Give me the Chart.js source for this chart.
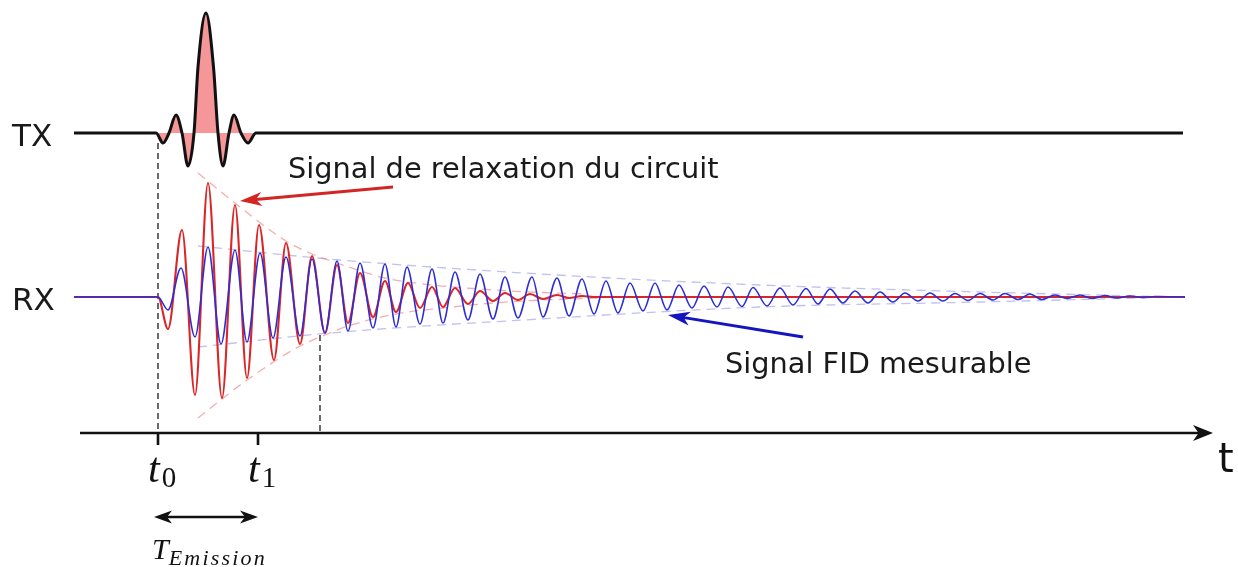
<!DOCTYPE html>
<html>
<head>
<meta charset="utf-8">
<script src="https://cdn.jsdelivr.net/npm/chart.js@4/dist/chart.umd.min.js"></script>
<style>
  html, body { margin: 0; padding: 0; background: #fff; }
  canvas { display: block; }
</style>
</head>
<body>
<canvas id="c" width="1238" height="567"></canvas>
<script>
// Time is expressed in units of the emission window (t0 = 0, t1 = 1).
// Amplitudes are relative to each channel's own baseline.

// TX: emitted sinc-shaped RF pulse (extrema, half-height points and zero crossings)
const txTime = [-0.84, -0.02, 0.05, 0.11, 0.18, 0.24, 0.30, 0.36, 0.40, 0.48, 0.555, 0.60, 0.65, 0.71, 0.76, 0.83, 0.90, 0.98, 10.25];
const txAmp  = [0, 0, -0.10, 0, 0.18, 0, -0.33, 0, 0.66, 1.20, 0.66, 0, -0.33, 0, 0.18, 0, -0.10, 0, 0];

// RX: ringing of the coil circuit after the pulse (successive extrema)
const relaxTime = [-0.84, 0.00, 0.10, 0.24, 0.37, 0.50, 0.64, 0.77, 0.89, 1.01, 1.16, 1.28, 1.42, 1.54, 1.67, 1.79, 1.90, 2.02,
  2.15, 2.27, 2.38, 2.50, 2.62, 2.74, 2.85, 2.97, 3.10, 3.22, 3.35, 3.47, 3.60, 3.72, 3.85, 3.99, 4.11, 4.24, 4.36, 10.27];
const relaxAmp  = [0, 0, -0.32, 0.67, -0.98, 1.14, -1.01, 0.92, -0.81, 0.72, -0.63, 0.54, -0.47, 0.41, -0.36, 0.32, -0.26, 0.24,
  -0.20, 0.16, -0.15, 0.14, -0.11, 0.10, -0.10, 0.09, -0.07, 0.06, -0.04, 0.04, -0.03, 0.03, -0.02, 0.02, -0.01, 0.01, 0, 0];

// RX: free induction decay (successive extrema)
const fidTime = [-0.84, 0, 0.10, 0.23, 0.37, 0.50, 0.63, 0.77, 0.89, 1.02, 1.15, 1.28, 1.42, 1.54, 1.67, 1.79, 1.90, 2.02,
  2.15, 2.27, 2.38, 2.49, 2.62, 2.74, 2.85, 2.97, 3.10, 3.22, 3.35, 3.47, 3.60, 3.74, 3.85, 3.99, 4.11, 4.24, 4.36, 4.48,
  4.60, 4.72, 4.85, 4.97, 5.09, 5.21, 5.34, 5.46, 5.59, 5.70, 5.84, 5.95, 6.09, 6.22, 6.35, 6.48, 6.60, 6.72, 6.85, 6.97,
  7.10, 7.22, 7.35, 7.47, 7.60, 7.72, 7.85, 7.97, 8.10, 8.22, 8.35, 8.47, 8.60, 8.72, 8.84, 8.97, 9.09, 9.22, 9.34, 9.47,
  9.59, 9.72, 9.84, 9.97, 10.27];
const fidAmp  = [0, 0, -0.13, 0.29, -0.40, 0.50, -0.47, 0.47, -0.45, 0.44, -0.41, 0.40, -0.39, 0.38, -0.36, 0.36, -0.34, 0.34,
  -0.31, 0.33, -0.30, 0.30, -0.27, 0.28, -0.26, 0.25, -0.23, 0.23, -0.22, 0.20, -0.21, 0.20, -0.20, 0.19, -0.19, 0.18, -0.17, 0.16,
  -0.16, 0.14, -0.14, 0.14, -0.13, 0.12, -0.11, 0.11, -0.10, 0.10, -0.095, 0.095, -0.09, 0.09, -0.08, 0.085, -0.07, 0.08, -0.06, 0.06,
  -0.06, 0.05, -0.05, 0.04, -0.04, 0.04, -0.04, 0.035, -0.035, 0.035, -0.03, 0.035, -0.025, 0.03, -0.025, 0.02, -0.015, 0.02, -0.015, 0.015,
  -0.01, 0.01, -0.005, 0.005, 0];

// Decay envelopes
const relaxTopTime = [0.40, 0.77, 1.28, 1.54, 1.79, 2.27, 2.74, 3.22, 3.72, 4.30];
const relaxTopAmp  = [1.24, 0.94, 0.56, 0.43, 0.34, 0.19, 0.12, 0.08, 0.05, 0.03];
const relaxBotTime = [0.40, 0.89, 1.42, 1.67, 1.90, 2.38, 2.85, 3.35, 3.85, 4.40];
const relaxBotAmp  = [-1.21, -0.83, -0.49, -0.38, -0.29, -0.17, -0.11, -0.06, -0.03, -0.01];
const fidTopTime = [0.40, 1.82, 3.82, 6.02, 8.22, 10.20];
const fidTopAmp  = [0.51, 0.37, 0.23, 0.12, 0.05, 0.00];
const fidBotTime = [0.40, 1.72, 3.82, 6.02, 8.22, 10.20];
const fidBotAmp  = [-0.50, -0.36, -0.22, -0.10, -0.05, 0.00];

// Time axis marks
const tickTimes = [0, 1];
const tickSubs = ['0', '1'];
const relaxEndTime = 1.62;

const channelLabels = ['TX', 'RX'];
const relaxText = 'Signal de relaxation du circuit';
const fidText = 'Signal FID mesurable';

// Layout constants (channel baselines and decorations, in axis units)
const TX_BASE = 1.64;
const RX_BASE = 0;
const AXIS_Y = -1.36;

const pts = (ts, as, off) => ts.map((t, i) => ({ x: t, y: as[i] + off }));

const baseLine = {
  pointRadius: 0, pointHoverRadius: 0, cubicInterpolationMode: 'monotone',
  fill: false, clip: false
};

const decor = {
  id: 'decor',
  beforeDatasetsDraw(chart) {
    const { ctx, scales: { x, y } } = chart;
    const X = v => x.getPixelForValue(v), Y = v => y.getPixelForValue(v);
    ctx.save();
    ctx.strokeStyle = '#444';
    ctx.lineWidth = 1.6;
    ctx.setLineDash([6, 4]);
    ctx.beginPath();
    ctx.moveTo(X(tickTimes[0]), Y(TX_BASE - 0.10));
    ctx.lineTo(X(tickTimes[0]), Y(AXIS_Y));
    ctx.moveTo(X(relaxEndTime), Y(-0.38));
    ctx.lineTo(X(relaxEndTime), Y(AXIS_Y));
    ctx.stroke();
    ctx.restore();
  },
  afterDraw(chart) {
    const { ctx, scales: { x, y } } = chart;
    const X = v => x.getPixelForValue(v), Y = v => y.getPixelForValue(v);
    ctx.save();

    const head = (tx, ty, fx, fy, len, half, color) => {
      const a = Math.atan2(ty - fy, tx - fx);
      const c = Math.cos(a), s = Math.sin(a);
      ctx.fillStyle = color;
      ctx.beginPath();
      ctx.moveTo(tx, ty);
      ctx.lineTo(tx - len * c + half * s, ty - len * s - half * c);
      ctx.lineTo(tx - len * 0.72 * c, ty - len * 0.72 * s);
      ctx.lineTo(tx - len * c - half * s, ty - len * s + half * c);
      ctx.closePath();
      ctx.fill();
    };
    const arrow = (fx, fy, tx, ty, color, w, len, half) => {
      const a = Math.atan2(ty - fy, tx - fx);
      ctx.strokeStyle = color;
      ctx.lineWidth = w;
      ctx.setLineDash([]);
      ctx.beginPath();
      ctx.moveTo(fx, fy);
      ctx.lineTo(tx - len * 0.6 * Math.cos(a), ty - len * 0.6 * Math.sin(a));
      ctx.stroke();
      head(tx, ty, fx, fy, len, half, color);
    };

    // time axis
    arrow(X(-0.78), Y(AXIS_Y), X(10.55), Y(AXIS_Y), '#111', 2.6, 20, 8);
    ctx.strokeStyle = '#111';
    ctx.lineWidth = 2.6;
    tickTimes.forEach(t => {
      ctx.beginPath();
      ctx.moveTo(X(t), Y(AXIS_Y));
      ctx.lineTo(X(t), Y(AXIS_Y) + 12);
      ctx.stroke();
    });

    // tick labels t0, t1
    ctx.fillStyle = '#111';
    ctx.textBaseline = 'alphabetic';
    tickTimes.forEach((t, i) => {
      const px = X(t) - 10;
      ctx.font = 'italic 42px "Liberation Serif"';
      ctx.fillText('t', px, Y(-1.85));
      const w = ctx.measureText('t').width;
      ctx.font = '29px "Liberation Serif"';
      ctx.fillText(tickSubs[i], px + w + 2, Y(-1.90));
    });

    // axis name
    ctx.font = '40px "DejaVu Sans"';
    ctx.fillText('t', X(10.60), Y(-1.75));

    // emission window
    const ay = Y(-2.20);
    ctx.strokeStyle = '#111';
    ctx.lineWidth = 2.6;
    ctx.beginPath();
    ctx.moveTo(X(tickTimes[0]) + 8, ay);
    ctx.lineTo(X(tickTimes[1]) - 8, ay);
    ctx.stroke();
    head(X(tickTimes[0]) - 4, ay, X(tickTimes[1]), ay, 18, 6.5, '#111');
    head(X(tickTimes[1]), ay, X(tickTimes[0]), ay, 18, 6.5, '#111');

    ctx.font = 'italic 30px "Liberation Serif"';
    const tx0 = X(-0.06);
    ctx.fillText('T', tx0, Y(-2.62));
    const tw = ctx.measureText('T').width;
    ctx.font = 'italic 22px "Liberation Serif"';
    ctx.letterSpacing = '2.2px';
    ctx.fillText('Emission', tx0 + tw, Y(-2.68));
    ctx.letterSpacing = '0px';

    // channel labels
    ctx.font = '31px "DejaVu Sans"';
    ctx.fillStyle = '#1a1a1a';
    ctx.fillText(channelLabels[0], X(-1.46), Y(TX_BASE) + 12.5);
    ctx.fillText(channelLabels[1], X(-1.46), Y(RX_BASE) + 12.5);

    // annotations
    ctx.font = '28.8px "DejaVu Sans"';
    ctx.fillText(relaxText, X(1.30), Y(1.19));
    ctx.fillText(fidText, X(5.67), Y(-0.76));
    arrow(X(2.35), Y(1.10), X(0.82), Y(0.96), '#d42525', 3, 22, 7);
    arrow(X(6.45), Y(-0.40), X(5.10), Y(-0.18), '#1515c0', 3, 22, 7);

    ctx.restore();
  }
};

new Chart(document.getElementById('c'), {
  type: 'line',
  data: {
    datasets: [
      Object.assign({}, baseLine, {
        label: 'FID', order: 0,
        data: pts(fidTime, fidAmp, RX_BASE),
        borderColor: 'rgb(45,45,215)', borderWidth: 1.6
      }),
      Object.assign({}, baseLine, {
        label: 'Relaxation', order: 1,
        data: pts(relaxTime, relaxAmp, RX_BASE),
        borderColor: 'rgb(218,38,38)', borderWidth: 2.1
      }),
      Object.assign({}, baseLine, {
        label: 'Relaxation env +', order: 2,
        data: pts(relaxTopTime, relaxTopAmp, RX_BASE),
        borderColor: 'rgba(238,120,120,0.6)', borderWidth: 1.3, borderDash: [9, 6]
      }),
      Object.assign({}, baseLine, {
        label: 'Relaxation env -', order: 2,
        data: pts(relaxBotTime, relaxBotAmp, RX_BASE),
        borderColor: 'rgba(238,120,120,0.6)', borderWidth: 1.3, borderDash: [9, 6]
      }),
      Object.assign({}, baseLine, {
        label: 'FID env +', order: 2,
        data: pts(fidTopTime, fidTopAmp, RX_BASE),
        borderColor: 'rgba(140,140,230,0.55)', borderWidth: 1.3, borderDash: [9, 6]
      }),
      Object.assign({}, baseLine, {
        label: 'FID env -', order: 2,
        data: pts(fidBotTime, fidBotAmp, RX_BASE),
        borderColor: 'rgba(140,140,230,0.55)', borderWidth: 1.3, borderDash: [9, 6]
      }),
      Object.assign({}, baseLine, {
        label: 'TX', order: 3,
        data: pts(txTime, txAmp, TX_BASE),
        borderColor: '#111', borderWidth: 3,
        fill: { target: { value: TX_BASE } },
        backgroundColor: 'rgb(245,150,152)'
      })
    ]
  },
  options: {
    responsive: false,
    devicePixelRatio: 1,
    animation: false,
    events: [],
    layout: { padding: 0 },
    plugins: { legend: { display: false }, tooltip: { enabled: false } },
    scales: {
      x: { type: 'linear', min: -1.58, max: 10.80, display: false },
      y: { type: 'linear', min: -2.70, max: 2.97, display: false }
    }
  },
  plugins: [decor]
});
</script>
</body>
</html>
